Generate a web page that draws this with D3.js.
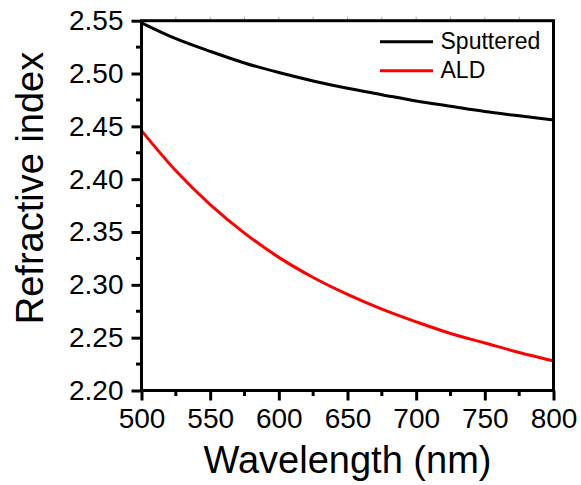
<!DOCTYPE html>
<html>
<head>
<meta charset="utf-8">
<script src="https://cdn.jsdelivr.net/npm/d3@7"></script>
<style>
  body { margin: 0; background: #fff; }
  text { font-family: Arial, "Liberation Sans", sans-serif; fill: #000; }
</style>
</head>
<body>
<div id="chart"></div>
<script>
// wavelength (nm)
var wavelength = [500, 525, 550, 575, 600, 625, 650, 675, 700, 725, 750, 775, 800];
// refractive index values
var sputtered = [2.548, 2.533, 2.521, 2.510, 2.501, 2.493, 2.486, 2.480, 2.474, 2.469, 2.464, 2.460, 2.456];
var ald = [2.446, 2.408, 2.376, 2.349, 2.326, 2.307, 2.291, 2.277, 2.265, 2.254, 2.245, 2.236, 2.228];

var xTicks = [500, 550, 600, 650, 700, 750, 800];
var yTicks = [2.20, 2.25, 2.30, 2.35, 2.40, 2.45, 2.50, 2.55];

var seriesNames = ["Sputtered", "ALD"];
var seriesColors = ["#000000", "#ff0000"];

var width = 581, height = 485;

var svg = d3.select("#chart")
    .append("svg")
    .attr("width", width)
    .attr("height", height);

var x = d3.scaleLinear().domain([500, 800]).range([141.5, 553.5]);
var y = d3.scaleLinear().domain([2.20, 2.55]).range([390.5, 20.7]);

var series = [sputtered, ald];

// line generator
var line = d3.line()
    .x(function (d, i) { return x(wavelength[i]); })
    .y(function (d) { return y(d); })
    .curve(d3.curveCatmullRom);

svg.selectAll(".series")
    .data(series)
    .enter()
    .append("path")
    .attr("class", "series")
    .attr("d", line)
    .style("fill", "none")
    .style("stroke", function (d, i) { return seriesColors[i]; })
    .style("stroke-width", 3);

// minor ticks on top edge (faint)
var minorX = d3.range(525, 800, 25);
svg.append("g")
    .selectAll("line")
    .data(minorX)
    .enter()
    .append("line")
    .attr("x1", function (d) { return x(d); })
    .attr("x2", function (d) { return x(d); })
    .attr("y1", y(2.55) - 1.5)
    .attr("y2", y(2.55) - 4)
    .style("stroke", "#aaa")
    .style("stroke-width", 1);

// bottom axis
var xAxis = svg.append("g")
    .attr("transform", "translate(0," + y(2.20) + ")")
    .call(d3.axisBottom(x).tickValues(xTicks).tickSize(10).tickPadding(8).tickFormat(d3.format("d")))
    .call(g => g.select(".domain").remove());
xAxis.selectAll("line").style("stroke-width", 3);
xAxis.selectAll("text").style("font-size", "28px")
    .style("font-family", "Arial, 'Liberation Sans', sans-serif");

// minor bottom ticks
svg.append("g")
    .selectAll("line")
    .data(d3.range(525, 800, 50))
    .enter()
    .append("line")
    .attr("x1", function (d) { return x(d); })
    .attr("x2", function (d) { return x(d); })
    .attr("y1", y(2.20))
    .attr("y2", y(2.20) + 5.5)
    .style("stroke", "#000")
    .style("stroke-width", 3);

// left axis
var yAxis = svg.append("g")
    .attr("transform", "translate(" + x(500) + ",0)")
    .call(d3.axisLeft(y).tickValues(yTicks).tickSize(10).tickPadding(8).tickFormat(d3.format(".2f")))
    .call(g => g.select(".domain").remove());
yAxis.selectAll("line").style("stroke-width", 3);
yAxis.selectAll("text").style("font-size", "28px")
    .style("font-family", "Arial, 'Liberation Sans', sans-serif");

// minor left ticks
svg.append("g")
    .selectAll("line")
    .data(d3.range(2.225, 2.55, 0.05))
    .enter()
    .append("line")
    .attr("x1", x(500))
    .attr("x2", x(500) - 5.5)
    .attr("y1", function (d) { return y(d); })
    .attr("y2", function (d) { return y(d); })
    .style("stroke", "#000")
    .style("stroke-width", 3);

// frame
svg.append("rect")
    .attr("x", x(500))
    .attr("y", y(2.55))
    .attr("width", x(800) - x(500))
    .attr("height", y(2.20) - y(2.55))
    .style("fill", "none")
    .style("stroke", "#000")
    .style("stroke-width", 3);

// axis titles
svg.append("text")
    .attr("x", (x(500) + x(800)) / 2)
    .attr("y", 473)
    .attr("text-anchor", "middle")
    .style("font-size", "38px")
    .text("Wavelength (nm)");

svg.append("text")
    .attr("transform", "translate(43,188) rotate(-90)")
    .attr("text-anchor", "middle")
    .style("font-size", "38px")
    .text("Refractive index");

// legend
var legend = svg.append("g");
seriesNames.forEach(function (name, i) {
    var ly = 41.7 + i * 29;
    legend.append("line")
        .attr("x1", 380).attr("x2", 433)
        .attr("y1", ly).attr("y2", ly)
        .style("stroke", seriesColors[i])
        .style("stroke-width", 3);
    legend.append("text")
        .attr("x", 440.5)
        .attr("y", ly + 7)
        .style("font-size", "23px")
        .text(name);
});
</script>
</body>
</html>
